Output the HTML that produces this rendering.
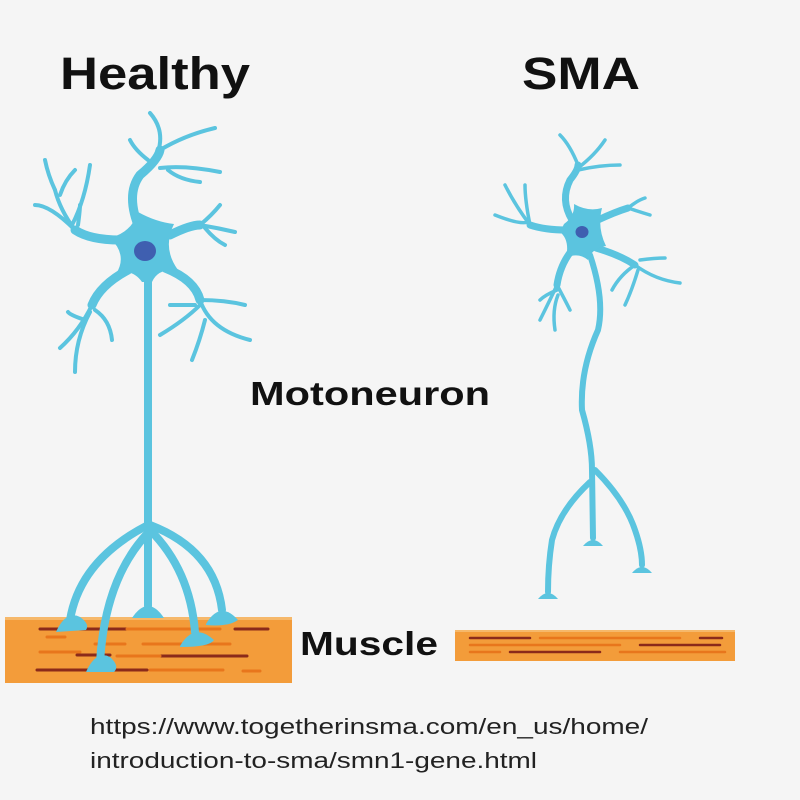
<!DOCTYPE html>
<html><head><style>
body{margin:0;background:#f5f5f5;}
svg{display:block}
text{font-family:"Liberation Sans",Arial,sans-serif;}
</style></head><body>
<svg width="800" height="800" viewBox="0 0 800 800" xmlns="http://www.w3.org/2000/svg">
<rect width="800" height="800" fill="#f5f5f5"/>
<text x="60" y="89" font-size="45" font-weight="bold" fill="#111" textLength="190" lengthAdjust="spacingAndGlyphs">Healthy</text>
<text x="522" y="89" font-size="45" font-weight="bold" fill="#111" textLength="118" lengthAdjust="spacingAndGlyphs">SMA</text>
<text x="250" y="405" font-size="33" font-weight="bold" fill="#111" textLength="240" lengthAdjust="spacingAndGlyphs">Motoneuron</text>
<text x="300" y="655" font-size="33" font-weight="bold" fill="#111" textLength="138" lengthAdjust="spacingAndGlyphs">Muscle</text>
<text x="90" y="734" font-size="22" fill="#222" textLength="558" lengthAdjust="spacingAndGlyphs">https://www.togetherinsma.com/en_us/home/</text>
<text x="90" y="768" font-size="22" fill="#222" textLength="447" lengthAdjust="spacingAndGlyphs">introduction-to-sma/smn1-gene.html</text>

<!-- healthy muscle -->
<rect x="5" y="617" width="287" height="66" fill="#f39c3a"/>
<rect x="5" y="617" width="287" height="3" fill="#f6b86a"/>
<g stroke-linecap="round" stroke-width="3">
<g stroke="#8b2a1a">
<line x1="40" y1="629" x2="127" y2="629"/><line x1="77" y1="655" x2="110" y2="655"/>
<line x1="37" y1="670" x2="147" y2="670"/><line x1="160" y1="656" x2="247" y2="656"/>
<line x1="235" y1="629" x2="268" y2="629"/></g>
<g stroke="#e8761c">
<line x1="47" y1="637" x2="65" y2="637"/><line x1="95" y1="644" x2="125" y2="644"/>
<line x1="143" y1="644" x2="230" y2="644"/><line x1="40" y1="652" x2="80" y2="652"/>
<line x1="117" y1="656" x2="160" y2="656"/><line x1="150" y1="670" x2="223" y2="670"/>
<line x1="243" y1="671" x2="260" y2="671"/><line x1="127" y1="629" x2="220" y2="629"/></g>
</g>
<!-- SMA muscle -->
<rect x="455" y="630" width="280" height="31" fill="#f39c3a"/>
<rect x="455" y="630" width="280" height="2" fill="#f6b86a"/>
<g stroke-linecap="round" stroke-width="2.5">
<g stroke="#8b2a1a"><line x1="470" y1="638" x2="530" y2="638"/><line x1="510" y1="652" x2="600" y2="652"/><line x1="640" y1="645" x2="720" y2="645"/><line x1="700" y1="638" x2="722" y2="638"/></g>
<g stroke="#e8761c"><line x1="540" y1="638" x2="680" y2="638"/><line x1="470" y1="645" x2="620" y2="645"/><line x1="620" y1="652" x2="725" y2="652"/><line x1="470" y1="652" x2="500" y2="652"/></g>
</g>

<g fill="none" stroke="#5bc4df" stroke-linecap="round" stroke-linejoin="round">
<!-- healthy neuron -->
<g stroke-width="8">
<path d="M148 270 L148 530"/>
<path d="M148 525 Q80 560 70 620"/>
<path d="M146 535 Q105 580 100 662"/>
<path d="M148 530 L148 606"/>
<path d="M150 530 Q190 570 195 632"/>
<path d="M150 525 Q215 550 222 610"/>
</g>
<g stroke-width="9">
<path d="M140 230 Q125 195 140 175 Q158 160 160 150"/>
<path d="M120 240 Q90 240 75 230"/>
<path d="M170 235 Q190 225 200 225"/>
<path d="M128 270 Q100 285 92 305"/>
<path d="M165 268 Q195 280 200 300"/>
</g>
<g stroke-width="4">
<path d="M158 152 Q165 130 150 113"/>
<path d="M160 150 Q185 135 215 128"/>
<path d="M160 168 Q185 165 220 172"/>
<path d="M168 170 Q180 180 200 182"/>
<path d="M148 160 Q135 150 130 140"/>
<path d="M75 230 Q60 210 55 190"/>
<path d="M75 230 Q50 205 35 205"/>
<path d="M72 225 Q85 200 90 165"/>
<path d="M78 225 Q80 210 80 205"/>
<path d="M55 190 Q48 175 45 160"/>
<path d="M60 195 Q65 180 75 170"/>
<path d="M200 225 Q218 228 235 232"/>
<path d="M200 225 Q212 215 220 205"/>
<path d="M205 228 Q215 240 225 245"/>
<path d="M92 305 Q80 330 60 348"/>
<path d="M90 312 Q75 340 75 372"/>
<path d="M95 310 Q110 320 112 340"/>
<path d="M85 320 Q70 315 68 312"/>
<path d="M200 300 Q210 330 250 340"/>
<path d="M205 320 Q200 340 192 360"/>
<path d="M200 305 Q185 320 160 335"/>
<path d="M200 300 Q225 300 245 305"/>
<path d="M195 305 Q175 305 170 305"/>
</g>
<!-- SMA neuron -->
<g stroke-width="6">
<path d="M590 255 Q605 300 598 330 Q580 370 582 410 Q592 445 592 470"/>
<path d="M592 470 L593 538"/>
<path d="M590 482 Q560 510 552 540 Q548 565 548 592"/>
<path d="M595 470 Q625 500 635 530 Q642 550 642 565"/>
</g>
<g stroke-width="7">
<path d="M572 220 Q560 200 570 180 Q578 170 578 165"/>
<path d="M566 230 Q545 230 530 225"/>
<path d="M598 220 Q615 212 628 208"/>
<path d="M596 248 Q620 255 635 265"/>
<path d="M572 250 Q560 265 557 285"/>
</g>
<g stroke-width="3.5">
<path d="M578 165 Q570 145 560 135"/>
<path d="M578 168 Q595 155 605 140"/>
<path d="M578 170 Q600 165 620 165"/>
<path d="M530 225 Q515 205 505 185"/>
<path d="M528 222 Q520 225 495 215"/>
<path d="M530 225 Q525 200 525 185"/>
<path d="M628 208 Q638 200 645 198"/>
<path d="M628 208 Q640 212 650 215"/>
<path d="M635 265 Q655 280 680 283"/>
<path d="M638 270 Q632 290 625 305"/>
<path d="M635 265 Q620 275 612 290"/>
<path d="M640 260 Q655 258 665 258"/>
<path d="M557 285 Q550 300 540 320"/>
<path d="M557 285 Q565 300 570 310"/>
<path d="M558 295 Q552 310 555 330"/>
<path d="M557 290 Q545 295 540 300"/>
</g>
</g>
<g fill="#5bc4df">
<!-- healthy soma -->
<path d="M110 238 Q132 232 138 212 Q156 222 174 224 Q162 248 178 270 Q158 268 152 282 L142 282 Q132 268 116 274 Q128 255 110 238 Z"/>
<!-- synaptic terminals -->
<path d="M56 632 Q66 610 80 617 Q90 624 86 630 Z"/>
<path d="M86 672 Q96 650 110 657 Q120 666 114 672 Z"/>
<path d="M132 618 Q148 594 164 618 Z"/>
<path d="M180 646 Q194 622 214 640 Q210 647 180 647 Z"/>
<path d="M206 624 Q220 600 238 620 Q228 627 206 625 Z"/>
<!-- SMA soma -->
<path d="M564 224 Q575 216 574 204 Q588 212 602 208 Q597 228 606 246 Q592 248 588 260 Q578 252 566 258 Q570 240 560 232 Z"/>
<path d="M583 546 Q593 534 603 546 Z"/>
<path d="M538 599 Q548 587 558 599 Z"/>
<path d="M632 573 Q642 561 652 573 Z"/>
</g>
<ellipse cx="145" cy="251" rx="11" ry="10" fill="#3f5fb0"/>
<ellipse cx="582" cy="232" rx="6.5" ry="6" fill="#3f5fb0"/>
</svg>
</body></html>
